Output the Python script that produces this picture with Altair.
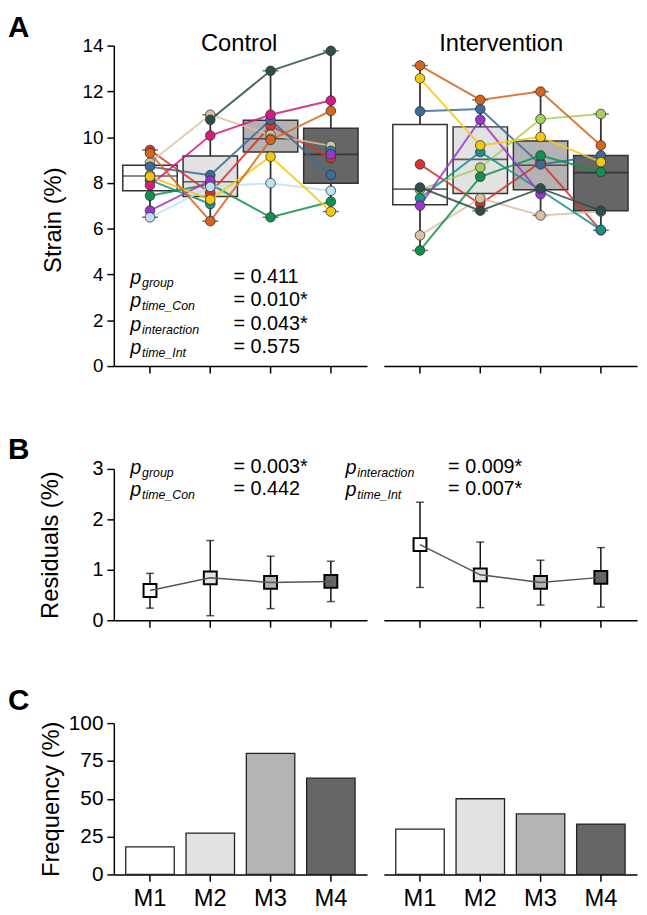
import altair as alt
import pandas as pd

FONT = "Liberation Sans"
TIMES = ["M1", "M2", "M3", "M4"]
SHADES = ["#ffffff", "#e2e2e2", "#b3b3b3", "#666666"]

SUBJECTS = ["red", "tan", "steelblue", "yellowgreen", "teal", "magenta",
            "green", "purple", "lightblue", "yellow", "orange", "darkslate"]
SUBJECT_COLORS = ["#d7322d", "#d9c2a3", "#3b6b98", "#a5cf5a", "#16928f", "#d51a80",
                  "#10904f", "#9a36cf", "#bde3f1", "#f4c811", "#d5641d", "#2d4f4b"]

# ---- Panel A: Control strain (%) per subject, M1..M4 (None = no value)
CON_RED = [9.44, 7.56, 10.50, 9.10]
CON_TAN = [8.89, 10.98, 10.10, 9.62]
CON_STEELBLUE = [8.71, 8.34, 10.76, 8.35]
CON_YELLOWGREEN = [8.34, None, 9.93, None]
CON_TEAL = [8.12, 7.08, None, 9.40]
CON_MAGENTA = [7.90, 10.07, 10.98, 11.60]
CON_GREEN = [7.44, 7.95, 6.50, 7.18]
CON_PURPLE = [6.79, 8.10, None, 9.25]
CON_LIGHTBLUE = [6.50, 7.83, 7.99, 7.66]
CON_YELLOW = [8.28, 7.27, 9.15, 6.75]
CON_ORANGE = [9.30, 6.33, 9.88, 11.15]
CON_DARKSLATE = [None, 10.76, 12.90, 13.77]

# ---- Panel A: Intervention strain (%)
INT_RED = [8.81, 7.08, 8.90, 5.93]
INT_TAN = [5.71, 7.33, 6.58, 6.75]
INT_STEELBLUE = [11.13, 11.23, 8.81, 9.20]
INT_YELLOWGREEN = [7.70, 8.67, 10.79, 11.01]
INT_TEAL = [7.33, 9.35, 7.68, 5.95]
INT_MAGENTA = [None, None, None, None]
INT_GREEN = [5.05, 8.27, 9.20, 8.48]
INT_PURPLE = [7.01, 10.76, 7.51, None]
INT_LIGHTBLUE = [None, None, None, None]
INT_YELLOW = [12.57, 9.64, 10.01, 8.91]
INT_ORANGE = [13.13, 11.63, 11.99, 9.64]
INT_DARKSLATE = [7.80, 6.79, 7.76, 6.79]

# ---- Panel A: box statistics
CON_Q1 = [7.66, 7.41, 9.35, 7.99]
CON_MED = [8.30, 8.05, 9.93, 9.25]
CON_Q3 = [8.77, 9.18, 10.74, 10.39]
CON_MIN = [6.50, 6.33, 6.50, 6.75]
CON_MAX = [9.44, 10.98, 12.90, 13.77]
INT_Q1 = [7.05, 7.54, 7.70, 6.79]
INT_MED = [7.73, 9.03, 8.77, 8.45]
INT_Q3 = [10.55, 10.45, 9.83, 9.20]
INT_MIN = [5.05, 6.79, 6.58, 5.93]
INT_MAX = [13.13, 11.63, 11.99, 11.01]

# ---- Panel B: residuals (%)
CON_RES = [0.59, 0.84, 0.75, 0.77]
CON_RES_LO = [0.24, 0.09, 0.23, 0.37]
CON_RES_HI = [0.93, 1.58, 1.27, 1.17]
INT_RES = [1.50, 0.90, 0.75, 0.85]
INT_RES_LO = [0.65, 0.25, 0.30, 0.26]
INT_RES_HI = [2.34, 1.55, 1.19, 1.44]

# ---- Panel C: frequency (%)
CON_FREQ = [18.2, 27.3, 80.0, 63.6]
INT_FREQ = [30.0, 50.0, 40.0, 33.3]

# ---- Annotation texts
A_SUBS = ["group", "time_Con", "interaction", "time_Int"]
A_VALS = ["= 0.411", "= 0.010*", "= 0.043*", "= 0.575"]
B_LEFT_SUBS = ["group", "time_Con"]
B_LEFT_VALS = ["= 0.003*", "= 0.442"]
B_RIGHT_SUBS = ["interaction", "time_Int"]
B_RIGHT_VALS = ["= 0.009*", "= 0.007*"]

W, HA, HB, HC = 256, 324, 153, 153

CON_SUBJ = [CON_RED, CON_TAN, CON_STEELBLUE, CON_YELLOWGREEN, CON_TEAL, CON_MAGENTA,
            CON_GREEN, CON_PURPLE, CON_LIGHTBLUE, CON_YELLOW, CON_ORANGE, CON_DARKSLATE]
INT_SUBJ = [INT_RED, INT_TAN, INT_STEELBLUE, INT_YELLOWGREEN, INT_TEAL, INT_MAGENTA,
            INT_GREEN, INT_PURPLE, INT_LIGHTBLUE, INT_YELLOW, INT_ORANGE, INT_DARKSLATE]


def subject_frame(lists):
    rows = []
    for subj, vals in zip(SUBJECTS, lists):
        seg = 0
        for i, v in enumerate(vals):
            if v is None:
                seg += 1
                continue
            rows.append(dict(subject=subj, time=TIMES[i], t=i, strain=v, seg=f"{subj}_{seg}"))
    return pd.DataFrame(rows)


def stats_frame(q1, med, q3, lo, hi):
    return pd.DataFrame(dict(time=TIMES, t=list(range(4)), q1=q1, med=med, q3=q3, lo=lo, hi=hi))


ONE = pd.DataFrame({"k": [0]})


def text_layer(s, x, y, size, style="normal", weight="normal", align="left", baseline="alphabetic"):
    return alt.Chart(ONE).mark_text(
        text=s, font=FONT, fontSize=size, fontStyle=style, fontWeight=weight,
        align=align, baseline=baseline, color="black"
    ).encode(x=alt.value(x), y=alt.value(y))


def p_block(subs, vals, xp, xsub, xeq, baselines):
    layers = []
    for s, v, yb in zip(subs, vals, baselines):
        layers.append(text_layer("p", xp, yb + 1, 20, style="italic"))
        layers.append(text_layer(s, xsub, yb + 4, 12.5, style="italic"))
        layers.append(text_layer(v, xeq, yb, 20))
    return layers


XSCALE = alt.Scale(domain=TIMES, paddingInner=0, paddingOuter=0.1)
X_NOLAB = alt.Axis(title=None, labels=False, ticks=True, domain=True)
X_LAB = alt.Axis(title=None, labels=True, labelFontSize=24, labelPadding=5, labelAngle=0)
FILL = alt.Fill("time:N", scale=alt.Scale(domain=TIMES, range=SHADES), legend=None)
COLOR = alt.Color("subject:N", scale=alt.Scale(domain=SUBJECTS, range=SUBJECT_COLORS), legend=None)

YA = alt.Axis(values=list(range(0, 15, 2)), title="Strain (%)", titleFontSize=24,
              labelFontSize=19, labelPadding=4, titleX=-61, titleY=176, titleBaseline="middle")
YB = alt.Axis(values=[0, 1, 2, 3], title="Residuals (%)", titleFontSize=24,
              labelFontSize=20, labelPadding=4, titleX=-64, titleY=HB / 2, titleBaseline="middle")
YC = alt.Axis(values=[0, 25, 50, 75, 100], title="Frequency (%)", titleFontSize=24,
              labelFontSize=21, labelPadding=4, titleX=-63, titleY=HC / 2, titleBaseline="middle")


def strain_panel(stats, pts, yaxis, extra):
    x = alt.X("time:N", scale=XSCALE, sort=TIMES, axis=X_NOLAB)
    ys = alt.Scale(domain=[0, 14], nice=False)

    def Y(f):
        return alt.Y(f"{f}:Q", scale=ys, axis=yaxis)

    whisk = alt.Chart(stats).mark_rule(color="#333", strokeWidth=1.8).encode(x=x, y=Y("lo"), y2=alt.Y2("hi"))
    cap_lo = alt.Chart(stats).mark_tick(color="#333", size=16, thickness=1.5, orient="horizontal").encode(x=x, y=Y("lo"))
    cap_hi = alt.Chart(stats).mark_tick(color="#333", size=16, thickness=1.5, orient="horizontal").encode(x=x, y=Y("hi"))
    box = alt.Chart(stats).mark_bar(size=55, stroke="#333", strokeWidth=1.5).encode(
        x=x, y=Y("q1"), y2=alt.Y2("q3"), fill=FILL)
    med = alt.Chart(stats).mark_tick(color="#222", size=55, thickness=1.6, orient="horizontal").encode(x=x, y=Y("med"))
    lines = alt.Chart(pts).mark_line(strokeWidth=2, opacity=0.85).encode(
        x=x, y=Y("strain"), detail="seg:N", order="t:Q", color=COLOR)
    dots = alt.Chart(pts).mark_circle(size=95, opacity=1, stroke="#333", strokeWidth=0.8).encode(
        x=x, y=Y("strain"), color=COLOR)
    return alt.layer(whisk, cap_lo, cap_hi, box, med, lines, dots, *extra).properties(width=W, height=HA)


def resid_panel(mean, lo, hi, yaxis, extra):
    df = pd.DataFrame(dict(time=TIMES, t=list(range(4)), mean=mean, lo=lo, hi=hi))
    x = alt.X("time:N", scale=XSCALE, sort=TIMES, axis=X_NOLAB)
    ys = alt.Scale(domain=[0, 3], nice=False)

    def Y(f):
        return alt.Y(f"{f}:Q", scale=ys, axis=yaxis)

    rule = alt.Chart(df).mark_rule(color="#111", strokeWidth=1.5).encode(x=x, y=Y("lo"), y2=alt.Y2("hi"))
    cap_lo = alt.Chart(df).mark_tick(color="#111", size=8, thickness=1.5, orient="horizontal").encode(x=x, y=Y("lo"))
    cap_hi = alt.Chart(df).mark_tick(color="#111", size=8, thickness=1.5, orient="horizontal").encode(x=x, y=Y("hi"))
    sq = alt.Chart(df).mark_point(shape="square", size=170, filled=True, opacity=1,
                                  stroke="black", strokeWidth=2).encode(x=x, y=Y("mean"), fill=FILL)
    line = alt.Chart(df).mark_line(color="#555", strokeWidth=1.5).encode(x=x, y=Y("mean"), order="t:Q")
    return alt.layer(rule, cap_lo, cap_hi, sq, line, *extra).properties(width=W, height=HB)


def freq_panel(freq, yaxis, extra):
    df = pd.DataFrame(dict(time=TIMES, freq=freq))
    x = alt.X("time:N", scale=XSCALE, sort=TIMES, axis=X_LAB)
    ys = alt.Scale(domain=[0, 100], nice=False)
    bars = alt.Chart(df).mark_bar(size=49, stroke="#222", strokeWidth=1.3).encode(
        x=x, y=alt.Y("freq:Q", scale=ys, axis=yaxis), fill=FILL)
    return alt.layer(bars, *extra).properties(width=W, height=HC)


con_pts = subject_frame(CON_SUBJ)
int_pts = subject_frame(INT_SUBJ)
con_stats = stats_frame(CON_Q1, CON_MED, CON_Q3, CON_MIN, CON_MAX)
int_stats = stats_frame(INT_Q1, INT_MED, INT_Q3, INT_MIN, INT_MAX)

a_left = strain_panel(
    con_stats, con_pts, YA,
    [text_layer("A", -107, -33, 30, weight="bold", baseline="top"),
     text_layer("Control", 126.7, 5.7, 24, align="center")]
    + p_block(A_SUBS, A_VALS, 16.7, 28.5, 121, [239.7, 263.0, 287.3, 310.7]),
)
a_right = strain_panel(
    int_stats, int_pts, None,
    [text_layer("Intervention", 118.7, 5.7, 24, align="center")],
)

b_left = resid_panel(
    CON_RES, CON_RES_LO, CON_RES_HI, YB,
    [text_layer("B", -107, -34, 30, weight="bold", baseline="top")]
    + p_block(B_LEFT_SUBS, B_LEFT_VALS, 16.7, 28.5, 121, [4.0, 26.7]),
)
b_right = resid_panel(
    INT_RES, INT_RES_LO, INT_RES_HI, None,
    p_block(B_RIGHT_SUBS, B_RIGHT_VALS, -38.7, -26.9, 65, [4.0, 26.7]),
)

c_left = freq_panel(CON_FREQ, YC, [text_layer("C", -107, -37, 30, weight="bold", baseline="top")])
c_right = freq_panel(INT_FREQ, None, [])

chart = alt.concat(
    a_left, a_right, b_left, b_right, c_left, c_right,
    columns=2, spacing={"row": 104, "column": 17}, bounds="flush",
).properties(
    padding={"left": 0, "top": 0, "right": 2, "bottom": 0}
).configure_view(stroke=None).configure_axis(
    domainColor="black", domainWidth=1.5, tickColor="black", tickWidth=1.5, tickSize=7,
    labelColor="black", titleColor="black", labelFont=FONT, titleFont=FONT,
    titleFontWeight="normal", grid=False,
)

chart.save("out.html", embed_options={"renderer": "svg", "actions": False})
